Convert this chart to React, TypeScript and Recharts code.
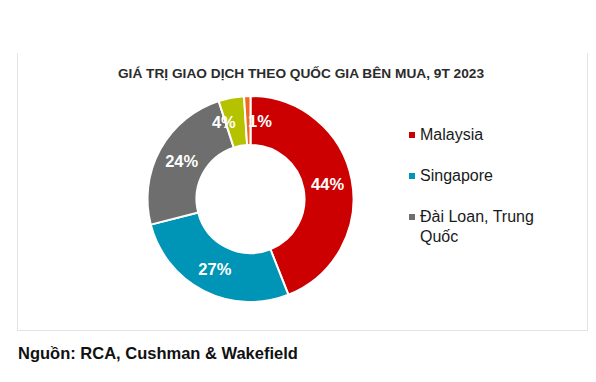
import {Cell, Legend, Pie, PieChart} from "recharts";

const countries = ["Malaysia", "Singapore", "Đài Loan, Trung Quốc", "Khác 1", "Khác 2"];
const shares = [44, 27, 24, 4, 1];
const colors = ["#cc0000", "#0095b6", "#6d6e6d", "#b5c200", "#f26522"];
const legendCount = 3;

const data = countries.map((name, i) => ({name, value: shares[i]}));

const RADIAN = Math.PI / 180;
const FONT = "Arial, 'Liberation Sans', sans-serif";

const renderLabel = (props: any) => {
    const {cx, cy, midAngle, innerRadius, outerRadius, value, index} = props;
    const r = (innerRadius + outerRadius) / 2;
    const x = cx + r * Math.cos(-midAngle * RADIAN);
    const y = cy + r * Math.sin(-midAngle * RADIAN);
    // the two thin slices sit side by side, so push their labels apart
    let anchor: "middle" | "start" | "end" = "middle";
    if (value < 5) {
        anchor = index === data.length - 1 ? "start" : "end";
    }
    return (
        <text
            x={x}
            y={y}
            fill="#ffffff"
            textAnchor={anchor}
            dominantBaseline="central"
            fontFamily={FONT}
            fontWeight="bold"
            fontSize={16.5}
        >
            {`${value}%`}
        </text>
    );
};

const renderLegend = () => (
    <div style={{fontFamily: FONT, fontSize: 16, color: "#1a1a1a"}}>
        {data.slice(0, legendCount).map((d, i) => (
            <div key={d.name} style={{display: "flex", alignItems: "flex-start", marginBottom: 21}}>
                <span
                    style={{
                        width: 6,
                        height: 6,
                        background: colors[i],
                        marginTop: 7,
                        marginRight: 5,
                        flex: "none"
                    }}
                />
                <span style={{width: 125, lineHeight: "20px"}}>{d.name}</span>
            </div>
        ))}
    </div>
);

const App = () => {
    return (
        <div style={{position: "absolute", left: 0, top: 0, width: 596, height: 382, background: "#fff"}}>
            <div
                style={{
                    position: "absolute",
                    left: 17,
                    top: 53,
                    width: 569,
                    height: 277,
                    borderLeft: "1px solid #e4e4e4",
                    borderRight: "1px solid #e4e4e4",
                    borderBottom: "1px solid #e4e4e4"
                }}
            />
            <div
                style={{
                    position: "absolute",
                    left: 0,
                    width: 602,
                    top: 66,
                    textAlign: "center",
                    fontFamily: FONT,
                    fontWeight: "bold",
                    fontSize: 13.7,
                    color: "#2b2b2b"
                }}
            >
                GIÁ TRỊ GIAO DỊCH THEO QUỐC GIA BÊN MUA, 9T 2023
            </div>
            <div style={{position: "absolute", left: 0, top: 0}}>
                <PieChart width={596} height={382} margin={{top: 0, right: 0, bottom: 0, left: 0}}>
                    <Pie
                        data={data}
                        dataKey="value"
                        nameKey="name"
                        cx={250.5}
                        cy={199}
                        innerRadius={54}
                        outerRadius={103}
                        startAngle={90}
                        endAngle={-270}
                        stroke="#ffffff"
                        strokeWidth={2}
                        label={renderLabel}
                        labelLine={false}
                        isAnimationActive={false}
                    >
                        {data.map((d, i) => (
                            <Cell key={d.name} fill={colors[i]}/>
                        ))}
                    </Pie>
                    <Legend
                        layout="vertical"
                        content={renderLegend}
                        wrapperStyle={{left: 409, top: 125, width: 150}}
                    />
                </PieChart>
            </div>
            <div
                style={{
                    position: "absolute",
                    left: 18,
                    top: 344,
                    fontFamily: FONT,
                    fontWeight: "bold",
                    fontSize: 16.5,
                    color: "#111"
                }}
            >
                Nguồn: RCA, Cushman &amp; Wakefield
            </div>
        </div>
    );
};

export default App;
